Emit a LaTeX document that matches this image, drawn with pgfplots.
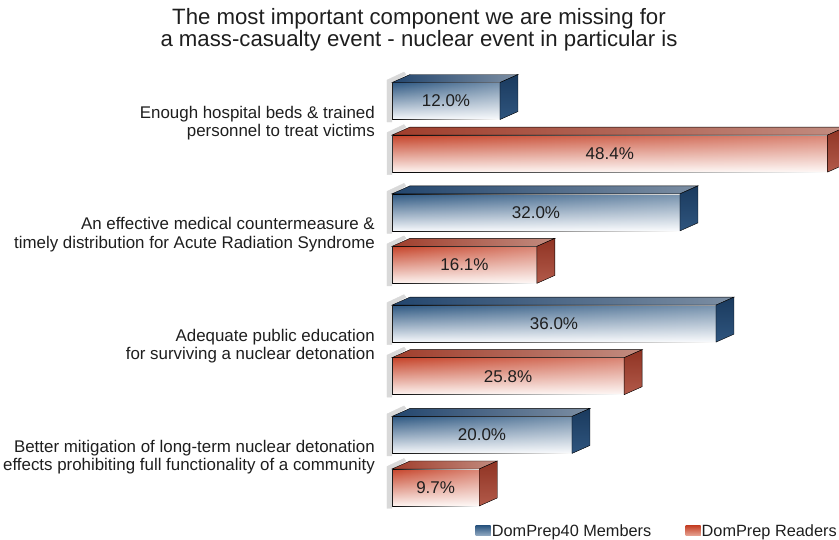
\documentclass[border=0pt]{standalone}
\usepackage{fontspec}
\setmainfont{Liberation Sans}
\usepackage{pgfplots}
\pgfplotsset{compat=1.18}
\usepackage{pgfplotstable}
\usetikzlibrary{fadings}

\definecolor{bFrontT}{HTML}{2E5882}
\definecolor{bFrontM}{HTML}{97AEC5}
\definecolor{bFrontB}{HTML}{F7F9FC}
\definecolor{bTopL}{HTML}{23466E}
\definecolor{bTopR}{HTML}{7C8EA3}
\definecolor{bSideT}{HTML}{1A3A5E}
\definecolor{bSideB}{HTML}{2F557E}
\definecolor{rFrontT}{HTML}{C6442A}
\definecolor{rFrontM}{HTML}{E8A898}
\definecolor{rFrontB}{HTML}{FEF5F2}
\definecolor{rTopL}{HTML}{A03E2C}
\definecolor{rTopR}{HTML}{C28C80}
\definecolor{rSideT}{HTML}{8F3323}
\definecolor{rSideB}{HTML}{B25A4A}
\definecolor{txt}{HTML}{1E1E1E}

\newdimen\barlen

\pgfplotstableread{
g v
0 12.0
1 32.0
2 36.0
3 20.0
}\members
\pgfplotstableread{
g v
0 48.4
1 16.1
2 25.8
3 9.7
}\readers

% meta transformed = 10*v (meta range 0..100), one x unit = 9pt
\newcommand\drawcube[7]{%
  \barlen=0.9pt
  \barlen=\pgfplotspointmetatransformed\barlen
  \edef\cubeL{\the\barlen}%
  \shade[top color=#5, middle color=#6, bottom color=#7] (-\cubeL,-18.5pt) rectangle (0pt,18.5pt);
  \fill[white, path fading=west, fill opacity=0.35] (-\cubeL,-18.5pt) rectangle (0pt,18.5pt);
  \fill[black!15] (-\cubeL-5pt,-21pt) -- (-\cubeL,-21pt) -- (-\cubeL,18.5pt) -- (-\cubeL+14pt,26.5pt) -- (-\cubeL+12pt,29pt) -- (-\cubeL-5pt,21pt) -- cycle;
  \shade[left color=#1,right color=#2] (-\cubeL,18.5pt) -- (0pt,18.5pt) -- (18pt,26.5pt) -- (-\cubeL+18pt,26.5pt) -- cycle;
  \shade[top color=#3,bottom color=#4] (0pt,-18.5pt) -- (0pt,18.5pt) -- (18pt,26.5pt) -- (18pt,-10.5pt) -- cycle;
}
\pgfdeclareplotmark{cubeB}{\drawcube{bTopL}{bTopR}{bSideT}{bSideB}{bFrontT}{bFrontM}{bFrontB}}
\pgfdeclareplotmark{cubeR}{\drawcube{rTopL}{rTopR}{rSideT}{rSideB}{rFrontT}{rFrontM}{rFrontB}}

\begin{document}
\begin{tikzpicture}
\begin{axis}[
  at={(392pt,411.7pt)}, anchor=origin,
  x=9pt, y=-111.3pt,
  xmin=0, xmax=49, ymin=-0.6, ymax=3.6,
  disabledatascaling,
  clip=false,
  axis line style={draw=none},
  tick style={draw=none},
  major tick length=0pt,
  xtick=\empty,
  ytick={-0.036,0.964,1.964,2.964},
  yticklabels={
    {Enough hospital beds \& trained\\personnel to treat victims},
    {An effective medical countermeasure \&\\timely distribution for Acute Radiation Syndrome},
    {Adequate public education\\for surviving a nuclear detonation},
    {Better mitigation of long-term nuclear detonation\\effects prohibiting full functionality of a community}},
  yticklabel style={align=right, font=\fontsize{16.9}{18.5}\selectfont, text=txt, inner sep=0pt, xshift=-17pt},
  /pgf/number format/assume math mode=true,
  bar width=37pt,
  legend style={at={(axis cs:49.9,3.627)}, anchor=east, draw=none, fill=none,
    legend columns=2, font=\fontsize{16.3}{18}\selectfont, text=txt,
    /tikz/every even column/.append style={column sep=33pt},
    nodes={inner sep=1.2pt}},
  legend cell align=left,
]
\addplot[xbar, draw=none, fill=bFrontM,
  legend image code/.code={\shade[top color=bFrontT,bottom color=bFrontM] (0pt,-5pt) rectangle (15pt,5pt);}]
  table[x=v, y expr=\thisrow{g}-0.236] {\members};
\addlegendentry{DomPrep40 Members}
\addplot[xbar, draw=none, fill=rFrontM,
  legend image code/.code={\shade[top color=rFrontT,bottom color=rFrontM] (0pt,-5pt) rectangle (15pt,5pt);}]
  table[x=v, y expr=\thisrow{g}+0.236] {\readers};
\addlegendentry{DomPrep Readers}

\addplot[scatter, only marks, mark=cubeB, forget plot,
  scatter/use mapped color={draw=none, fill=none}, mark options={draw=none},
  point meta=explicit, point meta min=0, point meta max=100]
  table[x=v, y expr=\thisrow{g}-0.236, meta=v] {\members};
\addplot[scatter, only marks, mark=cubeR, forget plot,
  scatter/use mapped color={draw=none, fill=none}, mark options={draw=none},
  point meta=explicit, point meta min=0, point meta max=100]
  table[x=v, y expr=\thisrow{g}+0.236, meta=v] {\readers};

\addplot[draw=none, mark=none, forget plot, point meta=explicit,
  nodes near coords={\pgfmathprintnumber[fixed,fixed zerofill,precision=1]{\pgfplotspointmeta}\%},
  nodes near coords style={anchor=center, font=\fontsize{17}{18}\selectfont, text=txt}]
  table[x expr=\thisrow{v}/2, y expr=\thisrow{g}-0.236, meta=v] {\members};
\addplot[draw=none, mark=none, forget plot, point meta=explicit,
  nodes near coords={\pgfmathprintnumber[fixed,fixed zerofill,precision=1]{\pgfplotspointmeta}\%},
  nodes near coords style={anchor=center, font=\fontsize{17}{18}\selectfont, text=txt}]
  table[x expr=\thisrow{v}/2, y expr=\thisrow{g}+0.236, meta=v] {\readers};
\end{axis}
\node[align=center, font=\fontsize{22.2}{20.5}\selectfont, text=txt] at (419pt,509pt)
  {The most important component we are missing for\\a mass-casualty event - nuclear event in particular is};
\pgfresetboundingbox
\path[use as bounding box] (0pt,0pt) rectangle (839pt,539pt);
\end{tikzpicture}
\end{document}
